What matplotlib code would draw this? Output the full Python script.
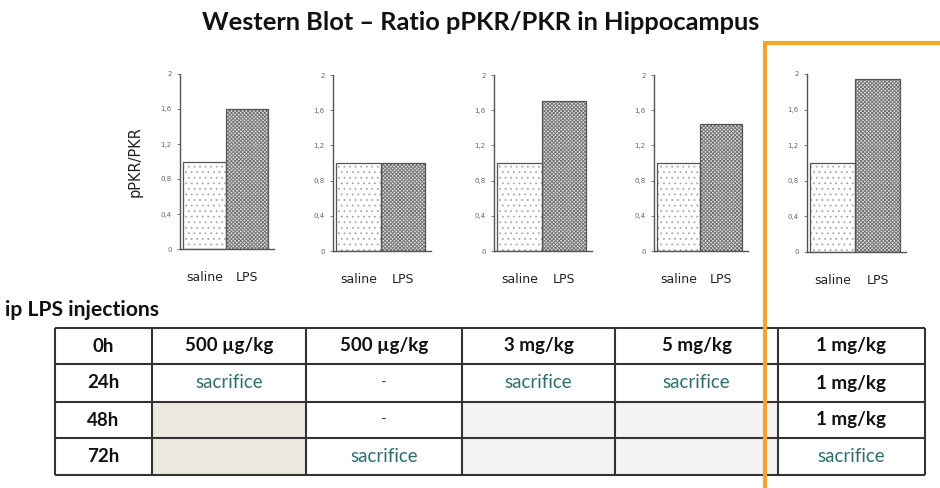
import numpy as np
import matplotlib
matplotlib.use("Agg")
import matplotlib.pyplot as plt
from matplotlib.patches import Rectangle
from matplotlib.ticker import FuncFormatter

# Ratio pPKR/PKR per treatment group
groups = ["saline", "LPS"]
saline_vals = [1.0, 1.0, 1.0, 1.0, 1.0]
lps_vals = [1.6, 1.0, 1.7, 1.44, 1.94]
yticks = [0, 0.4, 0.8, 1.2, 1.6, 2]

# Injection schedule table
times = ["0h", "24h", "48h", "72h"]
schedule = [
    ["500 µg/kg", "sacrifice", "", ""],
    ["500 µg/kg", "-", "-", "sacrifice"],
    ["3 mg/kg", "sacrifice", "", ""],
    ["5 mg/kg", "sacrifice", "", ""],
    ["1 mg/kg", "1 mg/kg", "1 mg/kg", "sacrifice"],
]
# cell shading after sacrifice
shade = [
    [None, None, "#ebe8df", "#ebe8df"],
    [None, None, None, None],
    [None, None, "#f3f3f3", "#f3f3f3"],
    [None, None, "#f3f3f3", "#f3f3f3"],
    [None, None, None, None],
]

plt.rcParams["hatch.linewidth"] = 0.6

W, H = 940, 488
fig = plt.figure(figsize=(W / 100, H / 100), dpi=100)

# pixel-space overlay for title, table and frame
over = fig.add_axes([0, 0, 1, 1])
over.set_xlim(0, W)
over.set_ylim(H, 0)
over.axis("off")

TITLE_FONT = ["Lato", "DejaVu Sans"]
over.text(481, 23, "Western Blot \u2013 Ratio pPKR/PKR in Hippocampus",
          ha="center", va="center", fontsize=18.3, fontweight="bold",
          family=TITLE_FONT, color="#111111")

# small bar charts: (axis x, right end of x axis, baseline y, top y) in px
chart_px = [(180, 274, 249, 74), (333, 431, 251, 75), (494, 592, 251, 75),
            (654, 748, 251, 75), (807, 906, 252, 74)]
bar_gap = 3

def fmt(v, pos):
    if v == 0 or v == 2:
        return "%d" % v
    return ("%.1f" % v).replace(".", ",")

for i, (x0, x1, yb, yt) in enumerate(chart_px):
    ax = fig.add_axes([x0 / W, 1 - yb / H, (x1 - x0) / W, (yb - yt) / H])
    ax.set_xlim(0, x1 - x0)
    ax.set_ylim(0, 2)
    bw = ((x1 - x0) - bar_gap - 6) / 2
    lefts = [bar_gap, bar_gap + bw]
    vals = [saline_vals[i], lps_vals[i]]
    # hatch fill then outline
    ax.bar(lefts[0], vals[0], width=bw, align="edge", color="white",
           edgecolor="#a8a8a8", hatch="...", linewidth=0)
    ax.bar(lefts[1], vals[1], width=bw, align="edge", color="#d8d8d8",
           edgecolor="#707070", hatch="xxxxxxxxx", linewidth=0)
    ax.bar(lefts, vals, width=bw, align="edge", fill=False,
           edgecolor="#555555", linewidth=0.9)
    ax.set_yticks(yticks)
    ax.yaxis.set_major_formatter(FuncFormatter(fmt))
    ax.tick_params(axis="y", labelsize=5, length=2, width=0.6,
                   colors="#666666", pad=4)
    ax.set_xticks([l + bw / 2 for l in lefts])
    ax.set_xticklabels(groups)
    ax.tick_params(axis="x", length=0, labelsize=9, pad=16,
                   labelcolor="#222222")
    for s in ["top", "right"]:
        ax.spines[s].set_visible(False)
    for s in ["left", "bottom"]:
        ax.spines[s].set_color("#555555")
        ax.spines[s].set_linewidth(1.0)
    ax.patch.set_alpha(0)
    if i == 0:
        ax.set_ylabel("pPKR/PKR", fontsize=10.5, color="#222222", labelpad=13)

# table
over.text(5, 310, "ip LPS injections", ha="left", va="center",
          fontsize=15.2, fontweight="bold", family=TITLE_FONT, color="#111111")
col_x = [55, 152, 306, 462, 615, 778, 925]
row_y = [328, 364, 402, 438, 475]
for c in range(5):
    for r in range(4):
        if shade[c][r]:
            over.add_patch(Rectangle((col_x[c + 1], row_y[r]),
                                     col_x[c + 2] - col_x[c + 1],
                                     row_y[r + 1] - row_y[r],
                                     facecolor=shade[c][r], edgecolor="none"))
for y in row_y:
    over.plot([col_x[0], col_x[-1]], [y, y], color="#333333", lw=1.5,
              solid_capstyle="butt")
for x in col_x:
    over.plot([x, x], [row_y[0], row_y[-1]], color="#333333", lw=1.5,
              solid_capstyle="butt")
for r, t in enumerate(times):
    over.text((col_x[0] + col_x[1]) / 2, (row_y[r] + row_y[r + 1]) / 2, t,
              ha="center", va="center", fontsize=13.5, fontweight="bold",
              family=TITLE_FONT, color="#111111")
for c in range(5):
    for r in range(4):
        s = schedule[c][r]
        if not s:
            continue
        cx = (col_x[c + 1] + col_x[c + 2]) / 2
        cy = (row_y[r] + row_y[r + 1]) / 2
        if s == "sacrifice":
            over.text(cx, cy, s, ha="center", va="center", fontsize=13.5,
                      family=TITLE_FONT, color="#2f6e6e")
        elif s == "-":
            over.text(cx, cy, s, ha="center", va="center", fontsize=11,
                      family=TITLE_FONT, color="#444444")
        else:
            over.text(cx, cy, s, ha="center", va="center", fontsize=13.5,
                      fontweight="bold", family=TITLE_FONT, color="#111111")

# orange highlight frame around the last group
over.plot([765, 765, W + 5], [H + 5, 43, 43], color="#f2a52a", lw=3,
          solid_joinstyle="miter")

fig.savefig("out.png", dpi=100)
